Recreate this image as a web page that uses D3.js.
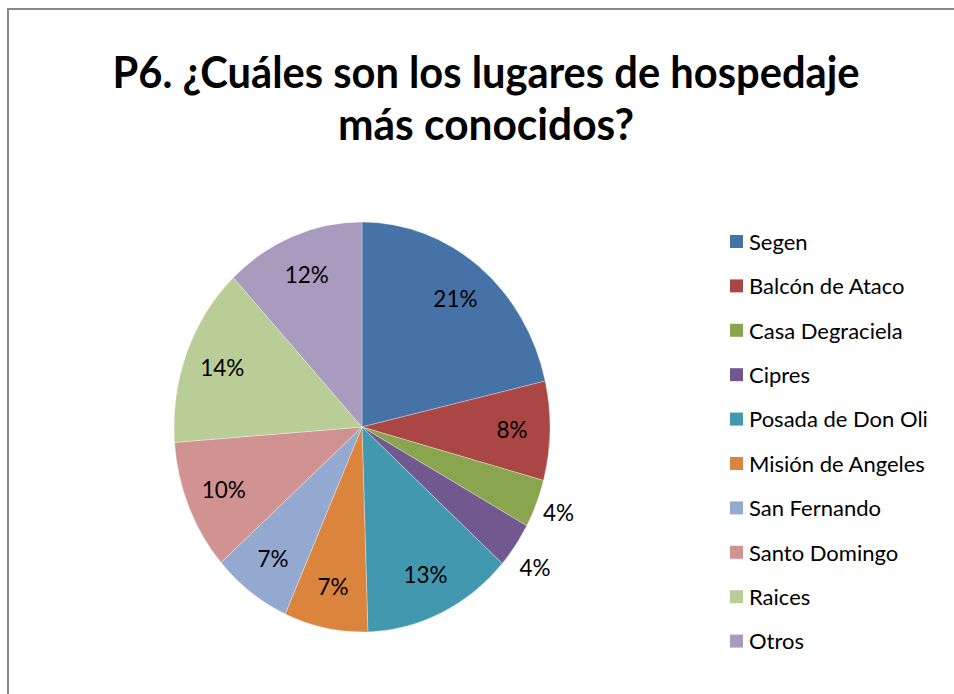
<!DOCTYPE html>
<html>
<head>
<meta charset="utf-8">
<script src="https://cdn.jsdelivr.net/npm/d3@7"></script>
<style>
  body { margin: 0; background: #fff; }
  svg { display: block; font-family: Lato, "Open Sans", sans-serif; }
</style>
</head>
<body>
<svg id="chart" width="954" height="694"></svg>
<script>
// data
const categories = ['Segen', 'Balcón de Ataco', 'Casa Degraciela', 'Cipres', 'Posada de Don Oli',
  'Misión de Angeles', 'San Fernando', 'Santo Domingo', 'Raices', 'Otros'];
const values = [21.4, 7.8, 3.8, 3.6, 12.9, 7.2, 6.8, 10.3, 14.2, 12.0];
const colors = ['#4572A7', '#AA4643', '#89A54E', '#71588F', '#4198AF',
  '#DB843D', '#93A9CF', '#D19392', '#B9CD96', '#A99BBD'];
const titleLines = ['P6. ¿Cuáles son los lugares de hospedaje', 'más conocidos?'];

const svg = d3.select('#chart');

// frame (only top and left edges visible)
svg.append('rect')
  .attr('x', 8).attr('y', 9)
  .attr('width', 1000).attr('height', 1000)
  .attr('fill', 'none')
  .attr('stroke', '#888')
  .attr('stroke-width', 2);

// title, squeezed a little to match the narrow original face
const title = svg.append('g');
title.append('text')
  .attr('x', 486).attr('y', 88)
  .attr('text-anchor', 'middle')
  .attr('font-weight', 'bold')
  .attr('font-size', 43)
  .attr('textLength', 747)
  .attr('lengthAdjust', 'spacingAndGlyphs')
  .attr('fill', '#000')
  .text(titleLines[0]);
title.append('text')
  .attr('x', 486).attr('y', 140)
  .attr('text-anchor', 'middle')
  .attr('font-weight', 'bold')
  .attr('font-size', 43)
  .attr('textLength', 296)
  .attr('lengthAdjust', 'spacingAndGlyphs')
  .attr('fill', '#000')
  .text(titleLines[1]);

// pie
const cx = 362, cy = 427, R = 188, sy = 205 / 188;
const pie = d3.pie().sort(null).value(d => d);
const arcs = pie(values);
const arc = d3.arc().innerRadius(0).outerRadius(R);

const g = svg.append('g')
  .attr('transform', `translate(${cx},${cy})`);

g.append('g')
  .attr('transform', `scale(1,${sy})`)
  .selectAll('path')
  .data(arcs)
  .enter()
  .append('path')
  .attr('d', arc)
  .attr('fill', (d, i) => colors[i])
  .attr('stroke', 'rgba(255,255,255,0.5)')
  .attr('stroke-width', 0.6);

// data labels: inside for big slices, outside for small ones
const labelArcIn = d3.arc().innerRadius(150).outerRadius(150);
const labelArcOut = d3.arc().innerRadius(212).outerRadius(212);

g.selectAll('text.lbl')
  .data(arcs)
  .enter()
  .append('text')
  .attr('class', 'lbl')
  .attr('transform', d => {
    const c = (d.data < 5 ? labelArcOut : labelArcIn).centroid(d);
    const dy = d.data < 5 && d.index === 3 ? 8 : 0;
    return `translate(${c[0]},${c[1] * sy + dy})`;
  })
  .attr('text-anchor', 'middle')
  .attr('dy', '0.35em')
  .attr('font-size', 22.5)
  .attr('fill', '#000')
  .text(d => Math.round(d.data) + '%');

// legend
const legend = svg.append('g')
  .attr('transform', 'translate(730,242)');

const item = legend.selectAll('g')
  .data(categories)
  .enter()
  .append('g')
  .attr('transform', (d, i) => `translate(0,${i * 44.4})`);

item.append('rect')
  .attr('x', 0).attr('y', -7)
  .attr('width', 13).attr('height', 13)
  .attr('fill', (d, i) => colors[i]);

item.append('text')
  .attr('x', 19)
  .attr('dy', '0.35em')
  .attr('font-size', 22)
  .attr('fill', '#000')
  .text(d => d);
</script>
</body>
</html>
